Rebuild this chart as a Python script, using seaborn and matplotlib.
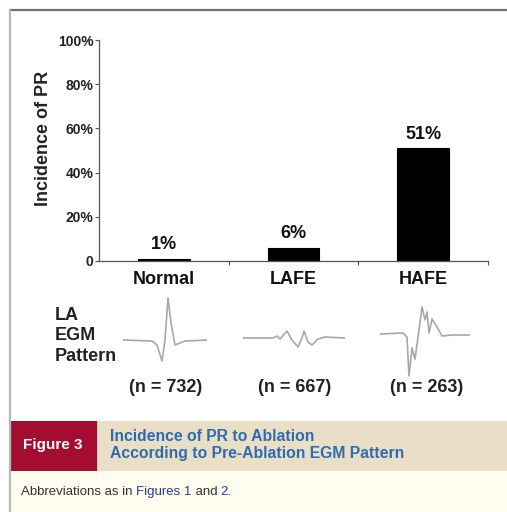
import numpy as np
import pandas as pd
import matplotlib
matplotlib.use("Agg")
import matplotlib.pyplot as plt
import seaborn as sns
from matplotlib.patches import Rectangle

# data
patterns = ["Normal", "LAFE", "HAFE"]
incidence = [1, 6, 51]
n_counts = [732, 667, 263]
yticks = [0, 20, 40, 60, 80, 100]
ytick_labels = ["0", "20%", "40%", "60%", "80%", "100%"]

# EGM traces sketched from the picture (time, amplitude)
normal_t = [0, 29, 34, 39, 42, 45, 48, 52, 57, 62, 84]
normal_a = [0, -1, -5, -21, 0, 42, 17, -5, -3, -1, 0]
lafe_t = [0, 30, 34, 37, 44, 49, 55, 59, 61, 65, 69, 75, 82, 102]
lafe_a = [0, 0, 2, -1, 7, -2, -9, 0, 7, -4, -7, -1, 1, 0]
hafe_t = [0, 23, 27, 29, 32, 35, 39, 42, 45, 47, 49, 52, 57, 62, 72, 90]
hafe_a = [0, 1, -3, -42, -14, -25, 4, 27, 14, 22, 1, 15, 7, -2, -1, -1]

sns.set_style("ticks")
plt.rcParams["font.family"] = ["Liberation Sans", "DejaVu Sans"]

W, H = 507, 512
fig = plt.figure(figsize=(W / 100, H / 100), dpi=100)


def fx(px):
    return px / W


def fy(py):
    return 1 - py / H


# frame lines
fig.add_artist(plt.Line2D([fx(10), 1], [fy(10), fy(10)], color="#6e6e6e", lw=1.6))
fig.add_artist(plt.Line2D([fx(10), fx(10)], [fy(10), 0], color="#b8b8b8", lw=1.6))

# main bar chart
ax = fig.add_axes([fx(99), fy(261), fx(488) - fx(99), fy(40) - fy(261)])
df = pd.DataFrame({"pattern": patterns, "incidence": incidence})
sns.barplot(data=df, x="pattern", y="incidence", color="black", width=0.4,
            saturation=1, edgecolor="black", linewidth=0.8, ax=ax)
ax.set_xlim(-0.5, 2.5)
ax.set_ylim(0, 100)
ax.set_yticks(yticks)
ax.set_yticklabels(ytick_labels, fontsize=10, fontweight="bold", color="#222222")
ax.tick_params(axis="y", length=3, width=0.8, pad=1, color="#555555")
ax.tick_params(axis="x", which="major", length=0, pad=7, labelsize=13)
ax.set_xticks([0.5, 1.5, 2.5], minor=True)
ax.tick_params(axis="x", which="minor", length=3, width=0.8, color="#555555")
for lab in ax.get_xticklabels():
    lab.set_fontweight("bold")
    lab.set_color("#111111")
ax.set_xlabel("")
ax.set_ylabel("Incidence of PR", fontsize=13, fontweight="bold", color="#222222")
ax.yaxis.set_label_coords(-0.12, 0.557)
sns.despine(ax=ax)
for s in ["left", "bottom"]:
    ax.spines[s].set_color("#555555")
    ax.spines[s].set_linewidth(0.9)
for i, v in enumerate(incidence):
    ax.annotate(f"{v}%", (i, v), xytext=(0, 4), textcoords="offset points",
                ha="center", va="bottom", fontsize=13, fontweight="bold",
                color="#111111")

# EGM pattern traces
traces = [(normal_t, normal_a, 123, 340), (lafe_t, lafe_a, 243, 338),
          (hafe_t, hafe_a, 380, 334)]
for t, a, x0, base in traces:
    span = max(t)
    eax = fig.add_axes([fx(x0), fy(base + 50), span / W, 100 / H])
    sns.lineplot(x=t, y=a, ax=eax, color="#a8a8a8", lw=1.2)
    eax.set_xlim(0, span)
    eax.set_ylim(-50, 50)
    eax.axis("off")

fig.text(fx(55), fy(336), "LA\nEGM\nPattern", fontsize=13, fontweight="bold",
         color="#222222", ha="left", va="center", linespacing=1.25)
for xc, n in zip([166, 295, 427], n_counts):
    fig.text(fx(xc), fy(388), f"(n = {n})", fontsize=13, fontweight="bold",
             color="#222222", ha="center", va="center")

# caption block
fig.add_artist(Rectangle((fx(10), fy(471)), fx(97) - fx(10), fy(421) - fy(471),
                         transform=fig.transFigure, color="#a50d30", lw=0))
fig.add_artist(Rectangle((fx(97), fy(471)), 1 - fx(97), fy(421) - fy(471),
                         transform=fig.transFigure, color="#e8dfc6", lw=0))
fig.add_artist(Rectangle((fx(11), 0), 1 - fx(11), fy(471),
                         transform=fig.transFigure, color="#fffdf0", lw=0))
fig.text(fx(53), fy(445), "Figure 3", fontsize=11, fontweight="bold",
         color="white", ha="center", va="center")
fig.text(fx(110), fy(445), "Incidence of PR to Ablation\nAccording to Pre-Ablation EGM Pattern",
         fontsize=11.3, fontweight="bold", color="#2e6cb2", ha="left", va="center",
         linespacing=1.15)
fs = 9.5
t1 = fig.text(fx(21), fy(492), "Abbreviations as in ", fontsize=fs,
              color="#333333", ha="left", va="center")
fig.canvas.draw()
r = fig.canvas.get_renderer()
bb = t1.get_window_extent(r)
t2 = fig.text(bb.x1 / W, fy(492), "Figures 1", fontsize=fs, color="#2b3a9e",
              ha="left", va="center")
bb = t2.get_window_extent(r)
t3 = fig.text(bb.x1 / W, fy(492), " and ", fontsize=fs, color="#333333",
              ha="left", va="center")
bb = t3.get_window_extent(r)
fig.text(bb.x1 / W, fy(492), "2.", fontsize=fs, color="#2b3a9e",
         ha="left", va="center")

fig.savefig("out.png", dpi=100)
